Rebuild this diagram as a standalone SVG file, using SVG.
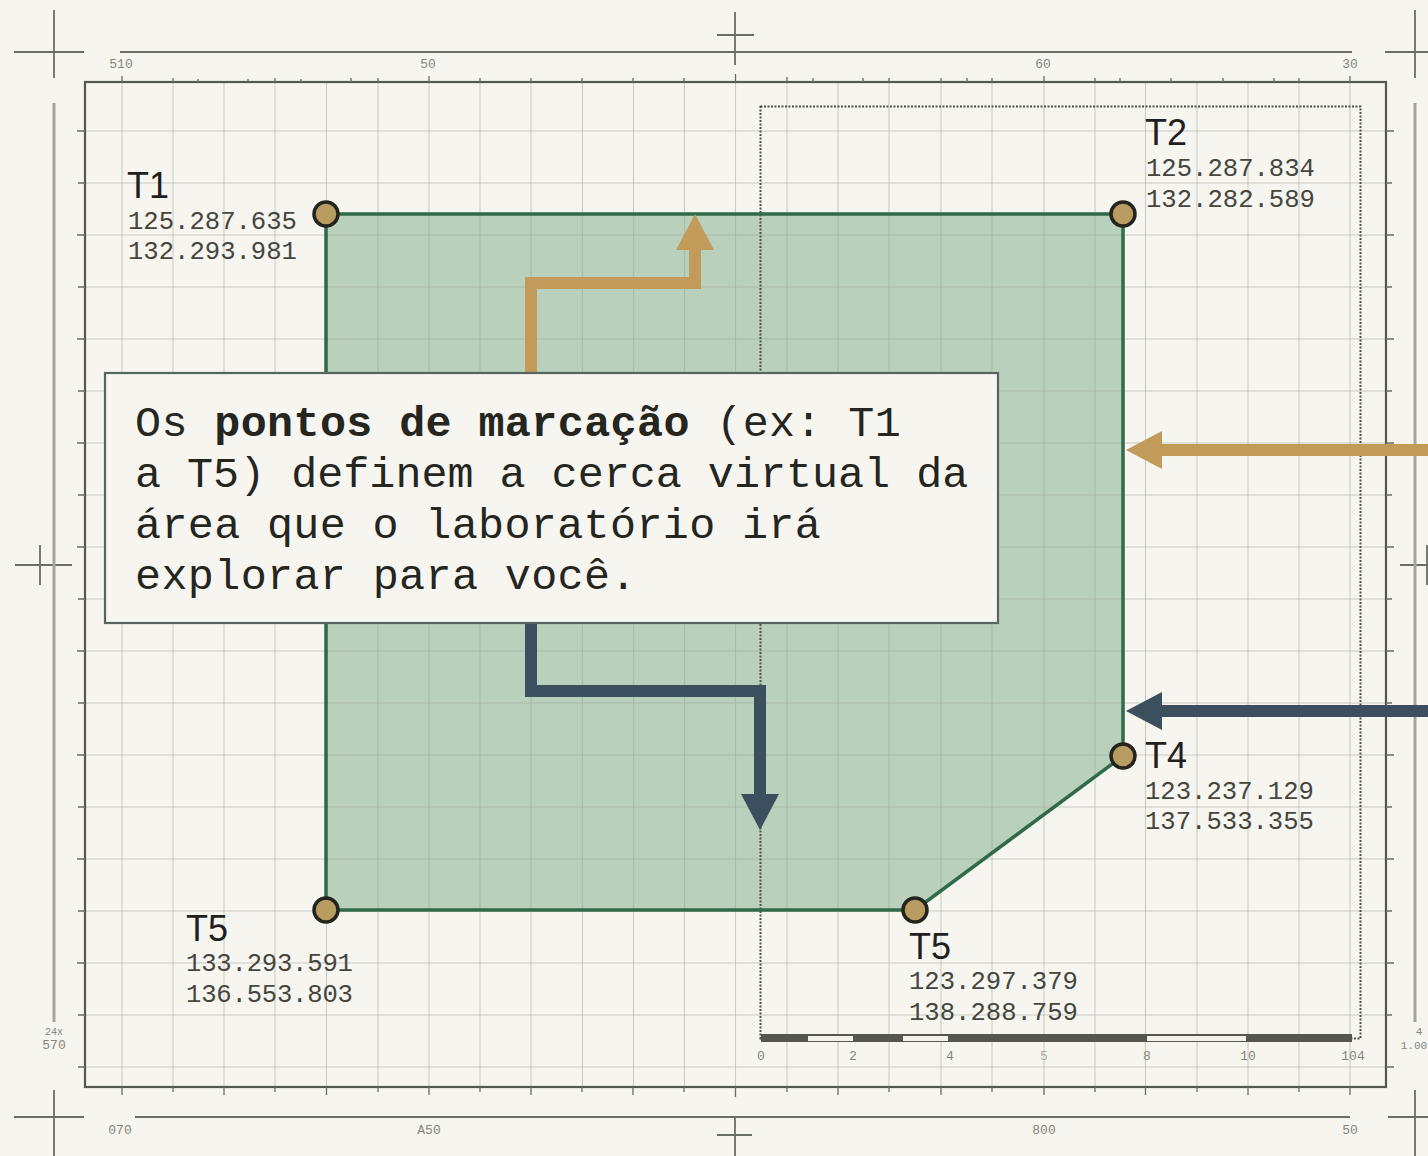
<svg xmlns="http://www.w3.org/2000/svg" width="1428" height="1156" viewBox="0 0 1428 1156">
<style>
.grid{fill:none;stroke:#a2a59c;stroke-width:1.1;opacity:.5}
.frame{fill:none;stroke:#55584f;stroke-width:2.2}
.tick{fill:none;stroke:#6a6c64;stroke-width:1.3}
.crop{fill:none;stroke:#6b6e66;stroke-width:1.8}
.side{fill:none;stroke:#a3a59e;stroke-width:3}
.rul{font-family:"Liberation Mono",monospace;font-size:13px;fill:#85877f;text-anchor:middle}
.name{font-family:"Liberation Sans",Arial,sans-serif;font-size:36px;fill:#1f211e}
.coord{font-family:"Liberation Mono",monospace;font-size:25.6px;fill:#44463f}
.pt{fill:#b89c62;stroke:#23241c;stroke-width:3.5}
.body{font-family:"Liberation Mono",monospace;font-size:43.4px;fill:#24261f}
.gold{fill:none;stroke:#c29a5a;stroke-width:12}
.dark{fill:none;stroke:#3c4f5e;stroke-width:12}
</style>
<defs>
<marker id="hg" markerUnits="userSpaceOnUse" markerWidth="40" markerHeight="40" refX="1" refY="20" orient="auto"><path d="M0 1L36 20L0 39Z" fill="#c29a5a"/></marker>
<marker id="hd" markerUnits="userSpaceOnUse" markerWidth="40" markerHeight="40" refX="1" refY="20" orient="auto"><path d="M0 1L36 20L0 39Z" fill="#3c4f5e"/></marker>
</defs>
<rect width="1428" height="1156" fill="#f6f5f0"/>
<polygon id="area-fill" points="326,214 1123,214 1123,756 915,910 326,910" fill="#a9c7af" fill-opacity=".8"/>
<g id="grid">
<path class="grid" d="M122 82V1087M173 82V1087M224 82V1087M275 82V1087M326.5 82V1087M378 82V1087M429 82V1087M480 82V1087M531 82V1087M582.5 82V1087M633.5 82V1087M684.5 82V1087M735.5 82V1087M787 82V1087M838 82V1087M889 82V1087M941 82V1087M992 82V1087M1044 82V1087M1095 82V1087M1145.500 82V1087M1197 82V1087M1248 82V1087M1299 82V1087M1350 82V1087"/>
<path class="grid" d="M85 131H1386M85 183H1386M85 235H1386M85 287H1386M85 339H1386M85 391H1386M85 443H1386M85 495H1386M85 547H1386M85 599H1386M85 651H1386M85 703H1386M85 755H1386M85 807H1386M85 859H1386M85 911H1386M85 963H1386M85 1015H1386M85 1067H1386"/>
</g>
<g id="sheet">
<rect class="frame" x="85" y="82" width="1301" height="1005"/>
<path class="tick" d="M122 76V82M173 78V82M198 79V82M248 79V82M275 78V82M301 79V82M351 78V82M378 78V82M429 76V82M480 78V82M531 78V82M582 78V82M633 78V82M684 78V82M735.500 74V82M787 77V82M813 78V82M863 78V82M889 78V82M941 78V82M967 78V82M992 78V82M1044 76V82M1095 78V82M1120 78V82M1171 78V82M1223 78V82M1274 78V82M1299 78V82M1350 76V82"/>
<path class="tick" d="M122 1087V1095M173 1087V1092M224 1087V1095M275 1087V1092M326.500 1087V1095M378 1087V1092M429 1087V1095M480 1087V1092M531 1087V1095M582 1087V1092M633 1087V1095M684 1087V1092M735.500 1087V1097M787 1087V1092M838 1087V1095M889 1087V1092M941 1087V1095M992 1087V1092M1044 1087V1095M1095 1087V1092M1145.500 1087V1095M1197 1087V1092M1248 1087V1095M1299 1087V1092M1350 1087V1095"/>
<path class="tick" d="M77 131H85M78 183H85M77 235H85M78 287H85M77 339H85M78 391H85M77 443H85M78 495H85M77 547H85M78 599H85M77 651H85M78 703H85M77 755H85M78 807H85M77 859H85M78 911H85M77 963H85M78 1015H85M78 1067H85"/>
<path class="tick" d="M1386 131H1394M1386 183H1392M1386 235H1394M1386 287H1392M1386 339H1394M1386 391H1392M1386 443H1394M1386 495H1392M1386 547H1394M1386 599H1392M1386 651H1394M1386 703H1392M1386 755H1394M1386 807H1392M1386 859H1394M1386 911H1392M1386 963H1394M1386 1015H1392M1386 1067H1394"/>
<path class="crop" d="M14 52H84M54 10V78M120 52H1352M735 12V65M717 35H754M1385 52H1428M1415 10V78"/>
<path class="crop" d="M14 1117H84M54 1090V1156M135 1117H1350M735 1117V1156M717 1135H752M1388 1117H1428M1415 1090V1156"/>
<path class="crop" d="M15 565H72M40 545V585M1400 565H1428M1427 545V585"/>
<path class="side" d="M54 103V1022M1415 103V1022"/>
<text class="rul" x="121" y="68">510</text><text class="rul" x="428" y="68">50</text><text class="rul" x="1043" y="68">60</text><text class="rul" x="1350" y="68">30</text>
<text class="rul" x="120" y="1134">070</text><text class="rul" x="429" y="1134">A50</text><text class="rul" x="1044" y="1134">800</text><text class="rul" x="1350" y="1134">50</text>
<text class="rul" x="54" y="1035" style="font-size:10px">24x</text><text class="rul" x="54" y="1049">570</text><text class="rul" x="1419" y="1035" style="font-size:11px">4</text><text class="rul" x="1414" y="1049" style="font-size:11px">1.00</text>
</g>
<g id="inner-frame">
<rect x="760.500" y="106.500" width="600" height="932" fill="none" stroke="#4e5149" stroke-width="2" stroke-dasharray="2 1.500"/>
</g>
<g id="scale-bar">
<rect x="761" y="1034" width="591" height="8" fill="#55574f"/>
<rect x="808" y="1036" width="45" height="5" fill="#f2f1ea"/><rect x="903" y="1036" width="45" height="5" fill="#f2f1ea"/><rect x="1147" y="1036" width="99" height="5" fill="#f2f1ea"/>
<text class="rul" x="761" y="1060">0</text><text class="rul" x="853" y="1060">2</text><text class="rul" x="950" y="1060">4</text><text class="rul" x="1044" y="1060" opacity=".6">5</text><text class="rul" x="1147" y="1060">8</text><text class="rul" x="1248" y="1060">10</text><text class="rul" x="1353" y="1060">104</text>
</g>
<polygon id="area-outline" points="326,214 1123,214 1123,756 915,910 326,910" fill="none" stroke="#2f6a49" stroke-width="3.500"/>
<g id="connectors">
<path class="gold" d="M531 373V283H695V249" marker-end="url(#hg)"/>
<path class="dark" d="M531 622V691H760V795" marker-end="url(#hd)"/>
<path class="gold" d="M1428 450H1161" marker-end="url(#hg)"/>
<path class="dark" d="M1428 711H1161" marker-end="url(#hd)"/>
</g>
<g id="T1"><circle class="pt" cx="326" cy="214" r="12"/><text class="name" x="127" y="198">T1</text><text class="coord" x="128" y="229">125.287.635</text><text class="coord" x="128" y="259">132.293.981</text></g>
<g id="T2"><circle class="pt" cx="1123" cy="214" r="12"/><text class="name" x="1145" y="145">T2</text><text class="coord" x="1146" y="176">125.287.834</text><text class="coord" x="1146" y="207">132.282.589</text></g>
<g id="T4"><circle class="pt" cx="1123" cy="756" r="12"/><text class="name" x="1145" y="768">T4</text><text class="coord" x="1145" y="799">123.237.129</text><text class="coord" x="1145" y="829">137.533.355</text></g>
<g id="T5-right"><circle class="pt" cx="915" cy="910" r="12"/><text class="name" x="909" y="959">T5</text><text class="coord" x="909" y="989">123.297.379</text><text class="coord" x="909" y="1020">138.288.759</text></g>
<g id="T5-left"><circle class="pt" cx="326" cy="910" r="12"/><text class="name" x="186" y="941">T5</text><text class="coord" x="186" y="971" letter-spacing="-.2">133.293.591</text><text class="coord" x="186" y="1002" letter-spacing="-.2">136.553.803</text></g>
<g id="note">
<rect x="105" y="373" width="893" height="250" fill="#f6f5f0" stroke="#5a645e" stroke-width="2.200"/>
<text class="body" x="135" y="436" letter-spacing=".38">Os <tspan font-weight="700">pontos de marcação</tspan> (ex: T1</text>
<text class="body" x="135" y="487">a T5) definem a cerca virtual da</text>
<text class="body" x="135" y="538" letter-spacing=".35">área que o laboratório irá</text>
<text class="body" x="135" y="589" letter-spacing=".37">explorar para você.</text>
</g>
</svg>
